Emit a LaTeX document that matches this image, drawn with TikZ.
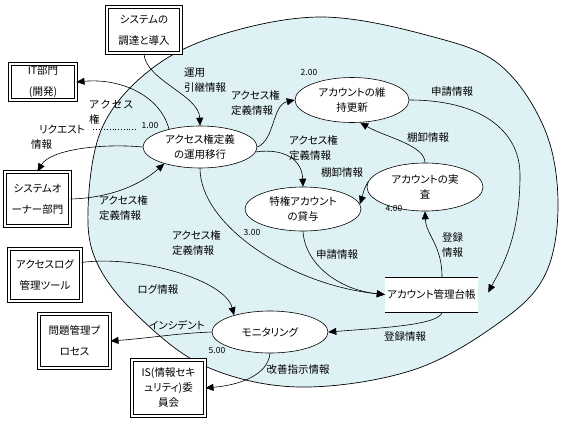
\documentclass[tikz,border=0pt]{standalone}
\usepackage{fontspec}
\usepackage{xcolor}
\usepackage{tikz}
\usetikzlibrary{shapes.geometric, arrows.meta}
\newfontfamily\jpfont[RawFeature=+palt]{Noto Sans CJK JP}
\definecolor{poolblue}{RGB}{222,242,245}

\begin{document}
\begin{tikzpicture}[
    x=1pt, y=-1pt,
    ext/.style={rectangle, draw, double, double distance=2.4pt, line width=0.6pt, fill=white, align=center, inner sep=0pt, font=\jpfont\fontsize{10.5}{21}\selectfont},
    proc/.style={ellipse, draw, line width=0.6pt, fill=white, align=center, inner sep=0pt, minimum width=114pt, minimum height=44pt, font=\jpfont\fontsize{10.5}{15}\selectfont},
    lbl/.style={align=left, inner sep=0pt, font=\jpfont\fontsize{10.5}{15}\selectfont},
    num/.style={inner sep=0pt, font=\jpfont\fontsize{8.5}{9}\selectfont},
    arrow/.style={line width=0.6pt, -{Triangle[length=8pt, width=7pt]}}
]
\fill[white] (0,0) rectangle (567,429);
\useasboundingbox (0,0) rectangle (567,429);

\draw[fill=poolblue, line width=0.7pt] plot[smooth cycle, tension=0.6] coordinates {(322,17) (430,36) (500,65) (545,130) (558,205) (545,275) (500,322) (413,370) (300,387) (207,367) (140,318) (98,265) (88,210) (102,128) (150,70) (220,35)};

\node[ext, minimum width=74.4pt, minimum height=46.4pt] (sys) at (144,30) {システムの\\調達と導入};
\node[ext, minimum width=66.4pt, minimum height=36.4pt] (it) at (43,82) {IT部門\\(開発)};
\node[ext, minimum width=65.4pt, minimum height=54.4pt] (owner) at (37.5,199) {システムオ\\ーナー部門};
\node[ext, minimum width=72.4pt, minimum height=52.4pt] (log) at (45,275) {アクセスログ\\管理ツール};
\node[ext, minimum width=71.4pt, minimum height=54.4pt] (prob) at (74.5,341) {問題管理プ\\ロセス};
\node[ext, minimum width=73.4pt, minimum height=56.4pt, font=\jpfont\fontsize{10.5}{15}\selectfont] (isc) at (168.5,388) {IS(情報セキ\\ュリティ)委\\員会};

\node[proc, minimum height=42pt] (opA) at (200,147) {アクセス権定義\\の運用移行};
\node[proc, minimum height=45pt] (mtB) at (352,100) {アカウントの維\\持更新};
\node[proc, minimum width=116pt] (lnC) at (303,209) {特権アカウント\\の貸与};
\node[proc, minimum width=116pt, minimum height=48pt] (auD) at (425,187) {アカウントの実\\査};
\node[proc, minimum width=116pt, minimum height=42pt] (monE) at (270,332) {モニタリング};

\node[fill=white, minimum width=93pt, minimum height=35pt, inner sep=0pt, font=\jpfont\fontsize{10.5}{15}\selectfont] (store) at (431.5,294.5) {アカウント管理台帳};
\draw[line width=0.6pt] (store.north west) -- (store.north east) (store.south west) -- (store.south east);

\node[num] (n1) at (150,125) {1.00};
\node[num] (n2) at (309,72) {2.00};
\node[num] (n3) at (252,232) {3.00};
\node[num] (n4) at (394,208) {4.00};
\node[num] (n5) at (217,350) {5.00};
\draw[dotted, line width=0.8pt] (93,129) -- (137,129);

\draw[arrow] (sys.south) .. controls (145,80) and (199,95) .. (opA.north);
\draw[arrow] (opA.150) .. controls (160,95) and (120,78) .. (it.east);
\draw[arrow] (opA.west) .. controls (100,143) and (50,150) .. (owner.north);
\draw[arrow] (owner.east) .. controls (110,198) and (140,185) .. (opA.205);
\draw[arrow] (opA.east) .. controls (275,140) and (272,105) .. (mtB.west);
\draw[arrow] (opA.-5) .. controls (285,148) and (302,160) .. (lnC.north);
\draw[arrow] (opA.south) .. controls (200,225) and (290,285) .. (store.west);
\draw[arrow] (lnC.south) .. controls (305,265) and (340,290) .. (store.west);
\draw[arrow] (auD.north) .. controls (425,145) and (385,137) .. (mtB.-70);
\draw[arrow] (auD.175) .. controls (363,190) and (362,198) .. (lnC.5);
\draw[arrow] (mtB.east) .. controls (480,100) and (520,130) .. (520,175) .. controls (520,240) and (500,270) .. ([xshift=10pt,yshift=2pt]store.east);
\draw[arrow] ([xshift=10.5pt]store.north) .. controls (442,245) and (426,235) .. (auD.south);
\draw[arrow] ([xshift=10.5pt]store.south) .. controls (440,325) and (380,328) .. (monE.east);
\draw[arrow] (log.19) .. controls (140,255) and (225,280) .. (monE.155);
\draw[arrow] (monE.west) .. controls (180,333) and (150,338) .. (prob.east);
\draw[arrow] (monE.south) .. controls (268,375) and (240,385) .. (isc.east);

\node[lbl, anchor=west] (lHand) at (184,80) {運用\\引継情報};
\node[lbl, anchor=west] (lAcc1) at (231,103) {アクセス権\\定義情報};
\node[lbl, anchor=west] (lAcc0) at (89,112) {ア\,ク\,セ\,ス\\権};
\node[lbl, anchor=west] (lReq) at (31,137) {\hspace{8pt}リクエスト\\情報};
\node[lbl, anchor=west] (lAcc2) at (99,208) {アクセス権\\定義情報};
\node[lbl, anchor=west] (lAcc3) at (172,243) {アクセス権\\定義情報};
\node[lbl, anchor=west] (lAcc4) at (289,148) {アクセス権\\定義情報};
\node[lbl] (lInv1) at (342,172) {棚卸情報};
\node[lbl] (lInv2) at (428,137) {棚卸情報};
\node[lbl] (lApp1) at (452,92) {申請情報};
\node[lbl] (lApp2) at (337,255) {申請情報};
\node[lbl, anchor=west] (lReg1) at (442,245) {登録\\情報};
\node[lbl] (lReg2) at (405,337) {登録情報};
\node[lbl] (lLog) at (158,290) {ログ情報};
\node[lbl] (lInc) at (177,325) {インシデント};
\node[lbl] (lImp) at (298,370) {改善指示情報};

\end{tikzpicture}
\end{document}
